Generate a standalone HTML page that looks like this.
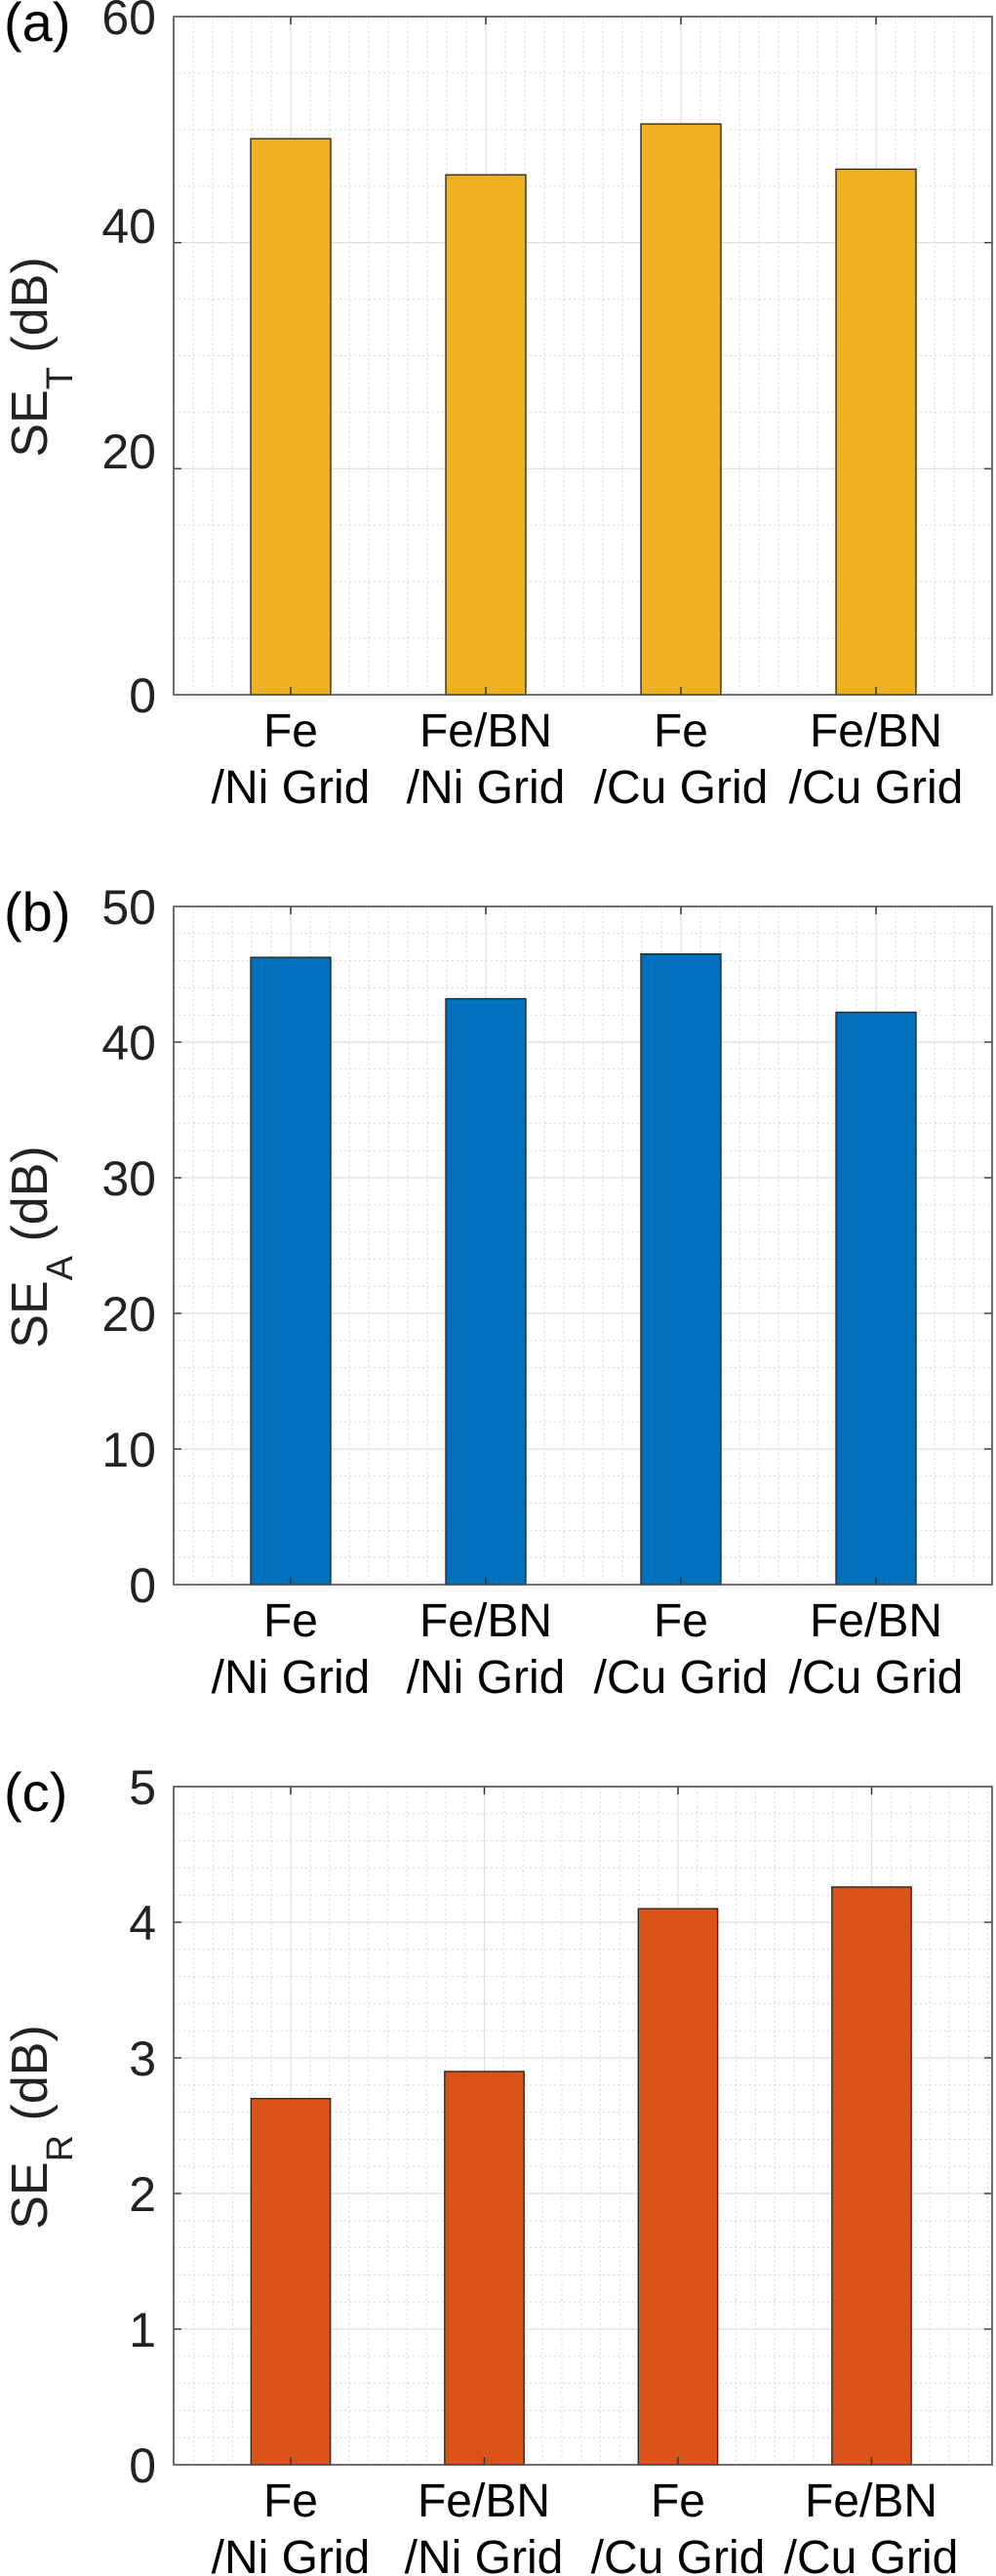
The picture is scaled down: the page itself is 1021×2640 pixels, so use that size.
<!DOCTYPE html>
<html><head><meta charset="utf-8"><style>
html,body{margin:0;padding:0;background:#fff;}
svg{display:block;font-family:"Liberation Sans",Arial,sans-serif;}
</style></head><body>
<svg id="s" xmlns="http://www.w3.org/2000/svg" width="1021" height="2640" viewBox="0 0 1021 2640">
<rect width="1021" height="2640" fill="#fff"/>
<g id="geo"></g>
<g fill="#222" font-size="50" text-anchor="end">
<text x="160" y="35">60</text><text x="160" y="249">40</text><text x="160" y="480">20</text><text x="160" y="730">0</text>
<text x="160" y="947">50</text><text x="160" y="1086">40</text><text x="160" y="1225">30</text><text x="160" y="1364">20</text><text x="160" y="1503">10</text><text x="160" y="1642">0</text>
<text x="160" y="1849">5</text><text x="160" y="1988">4</text><text x="160" y="2127">3</text><text x="160" y="2266">2</text><text x="160" y="2405">1</text><text x="160" y="2544">0</text>
</g>
<g fill="#000" font-size="48" text-anchor="middle">
<text x="298" y="765">Fe</text><text x="298" y="823">/Ni Grid</text>
<text x="498" y="765">Fe/BN</text><text x="498" y="823">/Ni Grid</text>
<text x="698" y="765">Fe</text><text x="698" y="823">/Cu Grid</text>
<text x="898" y="765">Fe/BN</text><text x="898" y="823">/Cu Grid</text>
<text x="298" y="1677">Fe</text><text x="298" y="1735">/Ni Grid</text>
<text x="498" y="1677">Fe/BN</text><text x="498" y="1735">/Ni Grid</text>
<text x="698" y="1677">Fe</text><text x="698" y="1735">/Cu Grid</text>
<text x="898" y="1677">Fe/BN</text><text x="898" y="1735">/Cu Grid</text>
<text x="298" y="2579">Fe</text><text x="298" y="2637">/Ni Grid</text>
<text x="496" y="2579">Fe/BN</text><text x="496" y="2637">/Ni Grid</text>
<text x="695" y="2579">Fe</text><text x="695" y="2637">/Cu Grid</text>
<text x="893" y="2579">Fe/BN</text><text x="893" y="2637">/Cu Grid</text>
</g>
<g fill="#000" font-size="56">
<text x="4" y="42">(a)</text>
<text x="4" y="954">(b)</text>
<text x="4" y="1856">(c)</text>
</g>
<g fill="#222" font-size="52" text-anchor="middle">
<text transform="translate(48,366) rotate(-90)">SE<tspan font-size="38" dy="26">T</tspan><tspan dy="-26"> (dB)</tspan></text>
<text transform="translate(48,1278) rotate(-90)">SE<tspan font-size="38" dy="26">A</tspan><tspan dy="-26"> (dB)</tspan></text>
<text transform="translate(48,2180) rotate(-90)">SE<tspan font-size="38" dy="26">R</tspan><tspan dy="-26"> (dB)</tspan></text>
</g>
</svg>
<script>
(function(){
var g=document.getElementById('geo'),h='';
var L=178,R=1017;
var panels=[
 {top:17,bot:712,max:60,minor:5,major:20,vals:[49.2,46,50.5,46.5],c:'#EDB120',cx:[298,498,698,898],sp:200},
 {top:929,bot:1624,max:50,minor:2,major:10,vals:[46.25,43.2,46.5,42.2],c:'#0072BD',cx:[298,498,698,898],sp:200},
 {top:1831,bot:2526,max:5,minor:0.2,major:1,vals:[2.7,2.9,4.1,4.26],c:'#D95319',cx:[298,496.5,695,893.5],sp:198.5}
];
panels.forEach(function(p){
 var H=p.bot-p.top;
 function Y(v){return p.bot-v/p.max*H;}
 var step=p.sp/10;
 for(var x=p.cx[0]-6*step;x<R;x+=step){if(x>L+1)h+='<line x1="'+x+'" x2="'+x+'" y1="'+p.top+'" y2="'+p.bot+'" stroke="#d8d8d8" stroke-width="1" stroke-dasharray="2,3"/>';}
 var n=Math.round(p.max/p.minor);
 for(var i=1;i<n;i++){var y=Y(i*p.minor);h+='<line x1="'+L+'" x2="'+R+'" y1="'+y+'" y2="'+y+'" stroke="#d8d8d8" stroke-width="1" stroke-dasharray="2,3"/>';}
 for(var v=p.major;v<p.max;v+=p.major){var y=Y(v);h+='<line x1="'+L+'" x2="'+R+'" y1="'+y+'" y2="'+y+'" stroke="#dedede" stroke-width="1.2"/>';h+='<line x1="'+L+'" x2="'+(L+8)+'" y1="'+y+'" y2="'+y+'" stroke="#444" stroke-width="1.5"/><line x1="'+(R-8)+'" x2="'+R+'" y1="'+y+'" y2="'+y+'" stroke="#444" stroke-width="1.5"/>';}
 p.cx.forEach(function(x){h+='<line x1="'+x+'" x2="'+x+'" y1="'+p.top+'" y2="'+p.bot+'" stroke="#dedede" stroke-width="1.2"/>';});
 p.vals.forEach(function(v,i){var w=p.sp*0.41,x=p.cx[i]-w/2,y=Y(v);h+='<rect x="'+x+'" y="'+y+'" width="'+w+'" height="'+(p.bot-y)+'" fill="'+p.c+'" stroke="#222" stroke-width="1.3"/>';});
 p.cx.forEach(function(x){h+='<line x1="'+x+'" x2="'+x+'" y1="'+p.bot+'" y2="'+(p.bot-8)+'" stroke="#333" stroke-width="1.5"/><line x1="'+x+'" x2="'+x+'" y1="'+p.top+'" y2="'+(p.top+8)+'" stroke="#333" stroke-width="1.5"/>';});
 h+='<rect x="'+L+'" y="'+p.top+'" width="'+(R-L)+'" height="'+H+'" fill="none" stroke="#4d4d4d" stroke-width="1.6"/>';
});
g.innerHTML=h;
})();
</script>
</body></html>
